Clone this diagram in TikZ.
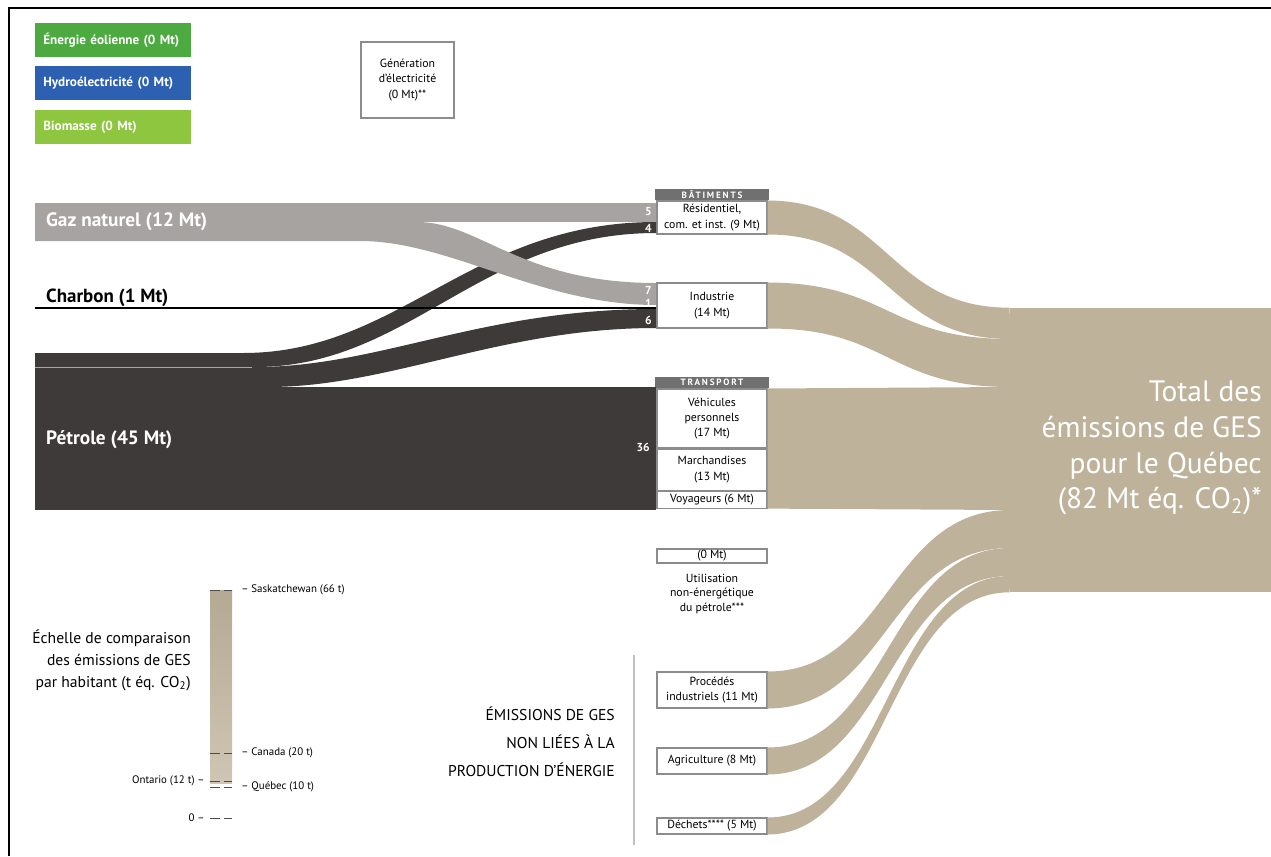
\documentclass[tikz,border=0pt]{standalone}
\usepackage{fontspec}
\setmainfont{PT Sans}
\usetikzlibrary{positioning}
\definecolor{eolcol}{RGB}{76,170,64}
\definecolor{hydcol}{RGB}{46,96,178}
\definecolor{biocol}{RGB}{142,198,64}
\definecolor{gazcol}{RGB}{166,163,161}
\definecolor{petcol}{RGB}{62,58,57}
\definecolor{tancol}{RGB}{190,178,155}
\definecolor{headcol}{RGB}{112,112,112}
\definecolor{linecol}{RGB}{140,140,140}
\newcommand{\setfs}[2]{\fontsize{#1}{#2}\selectfont}

\begin{document}
\begin{tikzpicture}[x=0.02cm, y=-0.02cm]
\tikzstyle{legend} = [anchor=north west, text=white, font=\setfs{7.5}{9}\bfseries, minimum height=0.68cm, text width=2.8cm, inner xsep=0.16cm, align=left]
\tikzstyle{box} = [draw=linecol, line width=0.6pt, fill=white, minimum width=2.2cm, inner sep=0.5pt, align=center, font=\setfs{6.7}{8.7}]
\tikzstyle{head} = [fill=headcol, text=white, minimum width=2.3cm, minimum height=0.22cm, inner sep=0pt, font=\setfs{5.2}{6}\bfseries\addfontfeature{LetterSpace=20}]
\tikzstyle{num} = [anchor=east, text=white, inner sep=0pt, font=\setfs{6.6}{7}\bfseries]
\tikzstyle{flow} = [fill=tancol]
\tikzstyle{source} = [anchor=west, font=\setfs{11}{13}\bfseries]
\tikzstyle{tick} = [draw=black!70, line width=0.4pt, dash pattern=on 0.19cm off 0.09cm]
\tikzstyle{scalelab} = [inner sep=0pt, font=\setfs{6.2}{7}]

\useasboundingbox (0,0) rectangle (1271,856);
\draw[line width=1.2pt] (9,856) -- (9,8) -- (1271,8);

\node[legend, fill=eolcol] (leg_eol) at (35,23) {Énergie éolienne (0 Mt)};
\node[legend, fill=hydcol] (leg_hyd) at (35,66) {Hydroélectricité (0 Mt)};
\node[legend, fill=biocol] (leg_bio) at (35,110) {Biomasse (0 Mt)};
\node[box, minimum width=1.86cm, minimum height=1.52cm] (gen) at (407.5,80) {Génération\\d’électricité\\(0 Mt)**};

\node[box, minimum height=0.66cm] (box_res) at (712,217.5) {Résidentiel,\\com. et inst. (9 Mt)};
\node[head, above=0pt of box_res] (head_bat) {BÂTIMENTS};
\node[box, minimum height=0.9cm] (box_ind) at (712,305.5) {Industrie\\(14 Mt)};
\node[box, minimum height=1.18cm] (box_veh) at (712,418.5) {Véhicules\\personnels\\(17 Mt)};
\node[head, above=0pt of box_veh] (head_tra) {TRANSPORT};
\node[box, minimum height=0.82cm, below=0pt of box_veh] (box_mar) {Marchandises\\(13 Mt)};
\node[box, minimum height=0.34cm, below=0pt of box_mar] (box_voy) {Voyageurs (6 Mt)};
\node[box, minimum height=0.28cm] (box_nul) at (712,556) {(0 Mt)};
\node[align=center, font=\setfs{6.7}{8.4}, below=0.08cm of box_nul] (lab_nul) {Utilisation\\non-énergétique\\du pétrole***};
\node[box, minimum height=0.72cm] (box_pro) at (712,690) {Procédés\\industriels (11 Mt)};
\node[box, minimum height=0.52cm] (box_agr) at (712,761) {Agriculture (8 Mt)};
\node[box, minimum height=0.32cm] (box_dec) at (712,826) {Déchets**** (5 Mt)};

\node[fill=tancol, minimum width=5.22cm, minimum height=5.68cm, inner sep=0pt] (total) at (1140.5,450) {};
\coordinate (t_res) at (1010,339);
\coordinate (t_ind) at (1010,387);
\coordinate (t_tra) at (1010,510);
\coordinate (t_pro) at (1010,548);
\coordinate (t_agr) at (1010,576);
\fill[flow] (box_res.north east) .. controls (888,201) and (888,308) .. (total.north west) -- (t_res) .. controls (888,339) and (888,234) .. (box_res.south east) -- cycle;
\fill[flow] (box_ind.north east) .. controls (888,283) and (888,339) .. (t_res) -- (t_ind) .. controls (888,387) and (888,328) .. (box_ind.south east) -- cycle;
\fill[flow] (box_veh.north east) -- (t_ind) -- (t_tra) -- (box_voy.south east) -- cycle;
\fill[flow] (box_pro.north east) .. controls (888,672) and (888,510) .. (t_tra) -- (t_pro) .. controls (888,548) and (888,708) .. (box_pro.south east) -- cycle;
\fill[flow] (box_agr.north east) .. controls (888,748) and (888,548) .. (t_pro) -- (t_agr) .. controls (888,576) and (888,774) .. (box_agr.south east) -- cycle;
\fill[flow] (box_dec.north east) .. controls (888,818) and (888,576) .. (t_agr) -- (total.south west) .. controls (888,592) and (888,834) .. (box_dec.south east) -- cycle;
\node[anchor=east, align=right, text=white, font=\setfs{16.8}{20.4}] (lab_total) at (1268,448) {Total des\\émissions de GES\\pour le Québec\\(82 Mt éq. CO\textsubscript{2})*};

\fill[petcol] (35,353) rectangle (255,387);
\fill[petcol] (35,387) rectangle (656,510);
\fill[petcol] (243,353) .. controls (400,353) and (470,222) .. (656,222) -- (656,233) .. controls (480,233) and (410,367) .. (255,367) -- cycle;
\fill[petcol] (255,367) .. controls (380,367) and (480,309) .. (656,309) -- (656,328) .. controls (500,328) and (390,387) .. (268,387) -- (255,387) -- cycle;
\draw[black!35, line width=0.3pt] (35,367) -- (252,367);
\fill[gazcol] (35,203) rectangle (656,222);
\fill[gazcol] (35,222) -- (417,222) .. controls (480,222) and (520,283) .. (656,283) -- (656,305) .. controls (540,305) and (450,241) .. (360,241) -- (35,241) -- cycle;
\draw[line width=1.6pt] (35,308) -- (656,308);

\node[source, text=white] (lab_gaz) at (40,222) {Gaz naturel (12 Mt)};
\node[source, anchor=base west, font=\setfs{10.8}{13}\bfseries] (lab_cha) at (40,302) {Charbon (1 Mt)};
\node[source, text=white] (lab_pet) at (40,440) {Pétrole (45 Mt)};
\node[num] at (652,212) {5};
\node[num] at (652,228) {4};
\node[num] at (652,290) {7};
\node[num] at (652,303) {1};
\node[num] at (652,320) {6};
\node[num] at (650,447) {36};

\shade[top color=tancol!95!black, bottom color=tancol!75] (210,590) rectangle (232,783);
\node[anchor=east, align=right, font=\setfs{8.9}{12.5}] (lab_scale) at (197,660) {Échelle de comparaison\\des émissions de GES\\par habitant (t éq. CO\textsubscript{2})};
\draw[tick] (210,590) -- (232,590);
\draw[tick] (210,753) -- (232,753);
\draw[tick] (210,781) -- (232,781);
\draw[tick] (210,787) -- (232,787);
\draw[tick] (210,818) -- (232,818);
\node[scalelab, anchor=west] (lab_sas) at (241,590) {– Saskatchewan (66 t)};
\node[scalelab, anchor=west] (lab_can) at (241,753) {– Canada (20 t)};
\node[scalelab, anchor=east] (lab_ont) at (205,781) {Ontario (12 t) –};
\node[scalelab, anchor=west] (lab_que) at (241,787) {– Québec (10 t)};
\node[scalelab, anchor=east] (lab_zero) at (205,818) {0 –};

\draw[line width=1.5pt, draw=black!25] (634,655) -- (634,845);
\node[anchor=east, align=right, font=\setfs{8.9}{16}] (lab_nonen) at (621,742) {ÉMISSIONS DE GES\\NON LIÉES À LA\\PRODUCTION D’ÉNERGIE};
\end{tikzpicture}
\end{document}
